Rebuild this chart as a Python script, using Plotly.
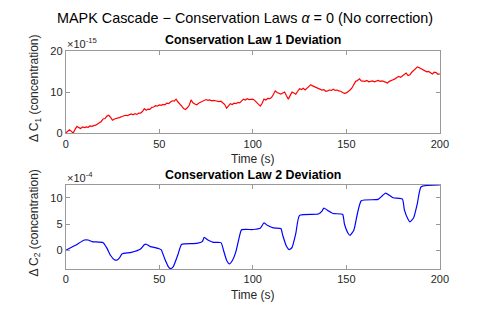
import plotly.graph_objects as go

# ---- data ----
t1 = list(range(0, 201))
c1 = [0.1, 0.6, 0.9, 0.5, 0.1, 1.0, 1.7, 1.4, 1.2, 1.6,
      1.4, 1.6, 1.5, 1.8, 1.7, 1.9, 2.0, 2.3, 2.5, 2.9,
      3.5, 3.6, 4.2, 4.4, 3.9, 3.2, 3.5, 3.6, 3.8, 3.9,
      4.1, 4.2, 4.4, 4.3, 4.6, 4.7, 4.5, 4.8, 4.6, 4.9,
      4.9, 5.3, 6.0, 5.6, 5.9, 5.8, 6.3, 6.4, 6.7, 6.6,
      6.9, 6.8, 7.0, 6.9, 7.3, 7.2, 7.6, 7.9, 7.8, 8.3,
      7.6, 7.2, 6.6, 6.0, 5.8, 6.2, 6.8, 8.1, 7.4, 7.1,
      6.9, 7.3, 7.5, 7.7, 7.9, 8.2, 8.0, 8.1, 7.9, 8.0,
      7.9, 7.8, 7.7, 7.8, 7.5, 7.0, 6.1, 6.7, 7.2, 7.0,
      7.3, 7.2, 7.5, 7.4, 7.9, 8.3, 8.1, 8.4, 8.2, 8.3,
      8.3, 8.0, 7.5, 7.0, 6.6, 7.3, 8.3, 8.1, 8.5, 8.4,
      8.7, 9.4, 10.3, 9.9, 9.6, 9.5, 9.8, 10.0, 9.1, 8.3,
      9.2, 10.0, 9.8, 9.5, 10.2, 10.8, 10.6, 10.9, 10.5, 10.9,
      11.3, 11.8, 11.5, 11.3, 11.2, 10.9, 10.7, 10.5, 10.6, 10.2,
      10.3, 10.5, 10.4, 10.7, 10.4, 10.5, 10.3, 10.2, 9.9, 9.7,
      9.8, 10.1, 10.5, 11.0, 11.8, 12.6, 12.8, 13.2, 12.7, 12.6,
      12.6, 12.8, 12.5, 12.6, 12.7, 12.5, 12.6, 12.8, 12.6, 12.7,
      12.6, 12.4, 12.2, 12.6, 12.9, 13.0, 13.2, 13.5, 13.8, 13.6,
      13.9, 14.2, 14.6, 14.0, 14.2, 14.8, 15.3, 15.6, 16.1, 15.9,
      15.7, 15.4, 15.2, 14.9, 15.0, 14.6, 14.4, 14.8, 14.7, 14.3,
      14.4]

t2 = [0, 5, 10, 12, 14, 20, 22, 24, 26, 27.5, 29, 30, 35, 40, 42, 43, 45, 50, 51,
      53, 55, 56, 57.5, 60, 62, 70, 73, 74, 76, 79, 83, 84.5, 86, 87.5, 89, 91, 93,
      94, 100, 104, 106, 108, 111, 115, 116, 118, 119.5, 121, 123, 125, 135, 137,
      138, 140, 143, 148, 149, 151, 152, 154, 156, 158, 167, 169, 171, 173, 175,
      180, 181, 183, 184, 186, 188, 190, 200]
c2 = [0.0, 0.9, 1.95, 1.95, 1.65, 1.45, 0.4, -1.0, -1.8, -1.85, -1.3, -0.7, -0.4,
      0.25, 1.05, 1.15, 0.75, 0.3, 0.1, -1.7, -3.2, -3.5, -3.1, -0.8, 1.15, 1.3,
      1.65, 2.45, 1.95, 1.5, 1.45, -0.2, -1.9, -2.6, -2.0, -0.2, 2.85, 3.9, 3.95,
      4.2, 5.2, 4.7, 4.25, 4.15, 2.85, 0.75, 0.1, 0.55, 3.2, 6.65, 6.9, 7.45, 8.05,
      7.6, 7.0, 6.85, 5.0, 3.2, 2.85, 3.8, 7.1, 9.45, 9.7, 10.3, 10.9, 10.5, 10.0,
      9.75, 7.75, 5.9, 5.4, 6.2, 8.95, 12.1, 12.45]

xticks = [0, 50, 100, 150, 200]
yticks1 = [0, 10, 20]
yticks2 = [0, 5, 10]

W, H = 495, 315
FONT = "Liberation Sans, Arial, Helvetica, sans-serif"
TXT = "#262626"
AXL = "#999999"

fig = go.Figure()
fig.add_trace(go.Scatter(x=t1, y=c1, mode="lines", line=dict(color="#ff0000", width=1.2),
                         xaxis="x", yaxis="y", showlegend=False))
fig.add_trace(go.Scatter(x=t2, y=c2, mode="lines",
                         line=dict(color="#0000ff", width=1.2, shape="spline", smoothing=0.5),
                         xaxis="x2", yaxis="y2", showlegend=False))

xl, xr = 64.3 / W, 447.7 / W
d1 = [1 - 132.5 / H, 1 - 46.5 / H]
d2 = [1 - 273.3 / H, 1 - 186.0 / H]

axcommon = dict(showgrid=False, zeroline=False, showline=True, mirror="ticks", linecolor=AXL,
                linewidth=1, ticks="inside", ticklen=4, tickcolor=AXL, tickwidth=1,
                tickfont=dict(family=FONT, size=11, color=TXT))

fig.update_layout(
    width=W, height=H, margin=dict(l=0, r=0, t=0, b=0),
    paper_bgcolor="white", plot_bgcolor="white",
    font=dict(family=FONT, color=TXT),
    xaxis=dict(domain=[xl, xr], range=[0, 200], tickvals=xticks, anchor="y", **axcommon),
    yaxis=dict(domain=d1, range=[0, 20], tickvals=yticks1, anchor="x", **axcommon),
    xaxis2=dict(domain=[xl, xr], range=[0, 200], tickvals=xticks, anchor="y2", **axcommon),
    yaxis2=dict(domain=d2, range=[-3.55, 12.45], tickvals=yticks2, anchor="x2", **axcommon),
)

cx = (64.3 + 447.7) / 2 / W
ann = [
    dict(text="MAPK Cascade − Conservation Laws <i>α</i> = 0 (No correction)", x=0.5, y=1 - 12 / H,
         font=dict(size=14.4, color="black")),
    dict(text="<b>Conservation Law 1 Deviation</b>", x=cx, y=1 - 35 / H, font=dict(size=12.4, color="black")),
    dict(text="<b>Conservation Law 2 Deviation</b>", x=cx, y=1 - 175.5 / H, font=dict(size=12.4, color="black")),
    dict(text="Time (s)", x=cx, y=1 - 159 / H, font=dict(size=12, color=TXT)),
    dict(text="Time (s)", x=cx, y=1 - 300 / H, font=dict(size=12, color=TXT)),
    dict(text="Δ C<sub>1</sub> (concentration)", x=33 / W, y=1 - 86 / H, textangle=-90,
         font=dict(size=12, color=TXT)),
    dict(text="Δ C<sub>2</sub> (concentration)", x=33 / W, y=1 - 226 / H, textangle=-90,
         font=dict(size=12, color=TXT)),
    dict(text="×10<sup>-15</sup>", x=64 / W, y=1 - 38 / H, xanchor="left", font=dict(size=11, color=TXT)),
    dict(text="×10<sup>-4</sup>", x=64 / W, y=1 - 178 / H, xanchor="left", font=dict(size=11, color=TXT)),
]
for a in ann:
    a.setdefault("xanchor", "center")
    a.update(xref="paper", yref="paper", yanchor="middle", showarrow=False)
    fig.add_annotation(**a)

fig.write_html("out.html", config={"displayModeBar": False},
               post_script="document.body.style.margin='0';")
